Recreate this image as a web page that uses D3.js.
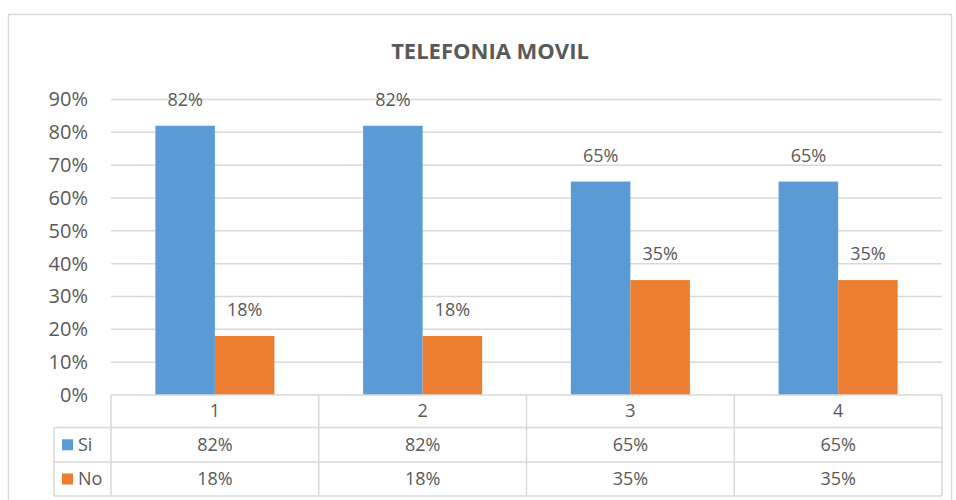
<!DOCTYPE html>
<html>
<head>
<meta charset="utf-8">
<script src="https://cdn.jsdelivr.net/npm/d3@7"></script>
<style>
  body { margin: 0; background: #fff; }
  svg text { font-family: "Open Sans", "Noto Sans", sans-serif; fill: #595959; }
</style>
</head>
<body>
<div id="chart"></div>
<script>
// data
const categories = ["1", "2", "3", "4"];
const seriesNames = ["Si", "No"];
const siValues = [0.82, 0.82, 0.65, 0.65];
const noValues = [0.18, 0.18, 0.35, 0.35];
const yTicks = [0, 0.1, 0.2, 0.3, 0.4, 0.5, 0.6, 0.7, 0.8, 0.9];
const colors = ["#5B9BD5", "#ED7D31"];

const W = 956, H = 500;
const plot = { left: 111, right: 942, top: 99.5, bottom: 395 };
const legendLeft = 54;
const fmt = d3.format(".0%");

const svg = d3.select("#chart").append("svg")
  .attr("width", W).attr("height", H);

// outer chart frame
svg.append("rect")
  .attr("x", 8.5).attr("y", 14.5)
  .attr("width", 943).attr("height", 500)
  .attr("fill", "none").attr("stroke", "#D9D9D9").attr("stroke-width", 1.5);

svg.append("text")
  .attr("x", 490).attr("y", 59)
  .attr("text-anchor", "middle")
  .style("font-size", "22px").style("font-weight", "bold")
  .text("TELEFONIA MOVIL");

const y = d3.scaleLinear().domain([0, 0.9]).range([plot.bottom, plot.top]);
const x0 = d3.scaleBand().domain(categories).range([plot.left, plot.right]).padding(0);
const x1 = d3.scaleBand().domain(seriesNames).range([0, x0.bandwidth()]).paddingOuter(0.745).paddingInner(0);

// gridlines
svg.append("g").selectAll("line").data(yTicks.filter(d => d > 0)).join("line")
  .attr("x1", plot.left).attr("x2", plot.right)
  .attr("y1", d => y(d)).attr("y2", d => y(d))
  .attr("stroke", "#D9D9D9").attr("stroke-width", 1.5);

// y axis labels
const yAxis = d3.axisLeft(y).tickValues(yTicks).tickFormat(fmt).tickSize(0).tickPadding(23);
const ya = svg.append("g").attr("transform", `translate(${plot.left},0)`).call(yAxis);
ya.select(".domain").remove();
ya.selectAll("text").style("font-size", "20px").attr("fill", "#595959");

const series = [siValues, noValues];
const groups = svg.append("g").selectAll("g").data(categories).join("g")
  .attr("transform", d => `translate(${x0(d)},0)`);

const cellData = (c, i) => series.map((s, k) => ({ name: seriesNames[k], v: s[i], k }));

groups.selectAll("rect").data(cellData).join("rect")
  .attr("x", d => x1(d.name))
  .attr("y", d => y(d.v))
  .attr("width", x1.bandwidth())
  .attr("height", d => plot.bottom - y(d.v))
  .attr("fill", d => colors[d.k]);

groups.selectAll("text.lbl").data(cellData).join("text").attr("class", "lbl")
  .attr("x", d => x1(d.name) + x1.bandwidth() / 2)
  .attr("y", d => y(d.v) - 20)
  .attr("text-anchor", "middle")
  .style("font-size", "18px")
  .text(d => fmt(d.v));

// data table
const table = svg.append("g").attr("fill", "none").attr("stroke", "#D9D9D9").attr("stroke-width", 1.5);
table.append("line").attr("x1", plot.left).attr("x2", plot.right).attr("y1", plot.bottom).attr("y2", plot.bottom);
const rowLines = [plot.bottom + 32.5, plot.bottom + 67, plot.bottom + 101];
rowLines.forEach(ry => {
  table.append("line").attr("x1", legendLeft).attr("x2", plot.right).attr("y1", ry).attr("y2", ry);
});
const bounds = categories.map(c => x0(c)).concat([plot.right]);
bounds.forEach(bx => {
  table.append("line").attr("x1", bx).attr("x2", bx).attr("y1", plot.bottom).attr("y2", rowLines[2]);
});
table.append("line").attr("x1", legendLeft).attr("x2", legendLeft)
  .attr("y1", rowLines[0]).attr("y2", rowLines[2]);

const rowCenters = [plot.bottom + 16, (rowLines[0] + rowLines[1]) / 2, (rowLines[1] + rowLines[2]) / 2];
svg.append("g").selectAll("text").data(categories).join("text")
  .attr("x", d => x0(d) + x0.bandwidth() / 2)
  .attr("y", rowCenters[0]).attr("dy", "0.35em")
  .attr("text-anchor", "middle").style("font-size", "18px")
  .text(d => d);

series.forEach((s, k) => {
  const g = svg.append("g");
  g.selectAll("text").data(s).join("text")
    .attr("x", (d, i) => x0(categories[i]) + x0.bandwidth() / 2)
    .attr("y", rowCenters[k + 1]).attr("dy", "0.35em")
    .attr("text-anchor", "middle").style("font-size", "18px")
    .text(d => fmt(d));
  g.append("rect")
    .attr("x", 62).attr("y", rowCenters[k + 1] - 5.5)
    .attr("width", 11).attr("height", 11)
    .attr("fill", colors[k]);
  g.append("text")
    .attr("x", 78).attr("y", rowCenters[k + 1]).attr("dy", "0.35em")
    .style("font-size", "18px")
    .text(seriesNames[k]);
});
</script>
</body>
</html>
